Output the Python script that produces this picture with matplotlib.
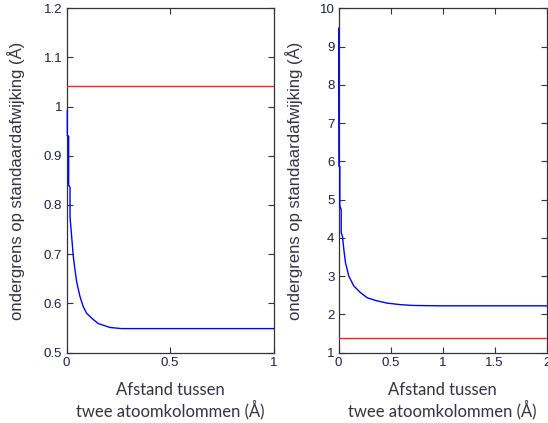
import matplotlib
matplotlib.use("Agg")
import matplotlib.pyplot as plt

# Left panel data
left_x = [0.004, 0.004, 0.0105, 0.0105, 0.017, 0.017, 0.025, 0.033, 0.041, 0.049,
          0.065, 0.081, 0.097, 0.121, 0.153, 0.209, 0.265, 0.5, 1.0]
left_y = [0.992, 0.941, 0.94, 0.84, 0.836, 0.776, 0.735, 0.695, 0.668, 0.644,
          0.614, 0.593, 0.580, 0.570, 0.559, 0.551, 0.5486, 0.5486, 0.5486]
left_ref = 1.042

# Right panel data
right_x = [0.002, 0.002, 0.004, 0.013, 0.013, 0.026, 0.026, 0.038, 0.051, 0.067,
           0.099, 0.147, 0.21, 0.276, 0.37, 0.47, 0.60, 0.72, 1.0, 2.0]
right_y = [9.48, 8.04, 5.87, 5.87, 4.83, 4.74, 4.13, 4.04, 3.70, 3.35,
           3.0, 2.74, 2.57, 2.43, 2.35, 2.29, 2.25, 2.23, 2.22, 2.22]
right_ref = 1.39

left_xticks = [0, 0.5, 1]
left_xticklabels = ["0", "0.5", "1"]
left_yticks = [0.5, 0.6, 0.7, 0.8, 0.9, 1.0, 1.1, 1.2]
left_yticklabels = ["0.5", "0.6", "0.7", "0.8", "0.9", "1", "1.1", "1.2"]
right_xticks = [0, 0.5, 1, 1.5, 2]
right_xticklabels = ["0", "0.5", "1", "1.5", "2"]
right_yticks = list(range(1, 11))
right_yticklabels = [str(v) for v in right_yticks]

ylabel_text = "ondergrens op standaardafwijking (Å)"
xlabel_line1 = "Afstand tussen"
xlabel_line2 = "twee atoomkolommen (Å)"

W, H = 548, 423
fig = plt.figure(figsize=(W / 100, H / 100), dpi=100)

tick_color = "#1e1e4a"
spine_color = "#333333"
label_color = "#333344"

def make_axes(rect, xs, ys, ref, xlim, ylim, xt, xtl, yt, ytl, ylab_x):
    ax = fig.add_axes(rect)
    ax.plot(xs, ys, color="#0000ff", lw=1.0, zorder=3, clip_on=False)
    ax.axhline(ref, color="#ff2020", lw=1.0, zorder=3)
    ax.set_xlim(*xlim)
    ax.set_ylim(*ylim)
    ax.set_xticks(xt)
    ax.set_xticklabels(xtl)
    ax.set_yticks(yt)
    ax.set_yticklabels(ytl)
    ax.tick_params(direction="in", length=4, width=0.8, top=True, right=True,
                   colors=spine_color, labelcolor=tick_color, pad=3,
                   labelsize=9.5)
    for lab in ax.get_xticklabels() + ax.get_yticklabels():
        lab.set_family("Liberation Sans")
    for s in ax.spines.values():
        s.set_color(spine_color)
        s.set_linewidth(0.9)
    ax.set_ylabel(ylabel_text, family="Liberation Sans", fontsize=12,
                  color=label_color)
    ax.yaxis.set_label_coords(ylab_x, 0.5)
    ax.text(0.5, -0.109, xlabel_line1, transform=ax.transAxes, ha="center",
            va="center", family="Lato", fontsize=12, color=label_color)
    ax.text(0.5, -0.167, xlabel_line2, transform=ax.transAxes, ha="center",
            va="center", family="Lato", fontsize=12, color=label_color)
    return ax

make_axes([66.5 / W, (H - 352.5) / H, 207 / W, 344.2 / H],
          left_x, left_y, left_ref, (0, 1), (0.5, 1.2),
          left_xticks, left_xticklabels, left_yticks, left_yticklabels, -0.20)
make_axes([338.5 / W, (H - 352.5) / H, 208 / W, 344.2 / H],
          right_x, right_y, right_ref, (0, 2), (1, 10),
          right_xticks, right_xticklabels, right_yticks, right_yticklabels, -0.171)

fig.savefig("out.png", dpi=100)
